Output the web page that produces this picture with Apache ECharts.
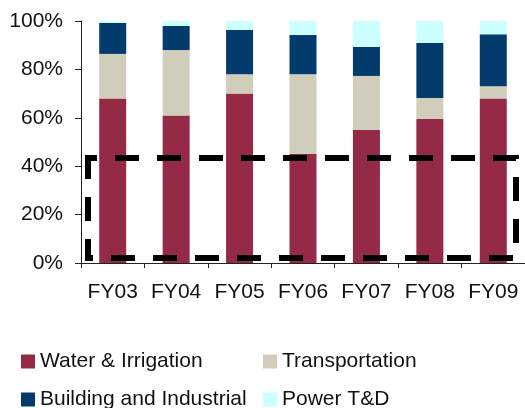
<!DOCTYPE html>
<html>
<head>
<meta charset="utf-8">
<script src="https://cdn.jsdelivr.net/npm/echarts@6/dist/echarts.min.js"></script>
<style>
  html, body { margin: 0; padding: 0; background: #fff; }
  #chart { width: 525px; height: 408px; }
</style>
</head>
<body>
<div id="chart"></div>
<script>
// Order-book mix by segment, share of total (%)
const years = ['FY03', 'FY04', 'FY05', 'FY06', 'FY07', 'FY08', 'FY09'];
const waterIrrigation = [68, 61, 70, 45, 55, 59.5, 68];
const transportation = [18.4, 27, 8, 33, 22.3, 8.7, 5];
const buildingIndustrial = [12.8, 10, 18.3, 16.2, 12, 22.7, 21.5];
const powerTD = [0.8, 2, 3.7, 5.8, 10.7, 9.1, 5.5];
const yTicks = [0, 20, 40, 60, 80, 100];

const FONT = '"Liberation Sans", Arial, sans-serif';
const FONT_SIZE = 21;
const chart = echarts.init(document.getElementById('chart'), null, { renderer: 'canvas' });

function barSeries(name, data, color) {
  return {
    name: name,
    type: 'bar',
    stack: 'mix',
    data: data,
    barWidth: 27,
    itemStyle: { color: color },
    emphasis: { disabled: true }
  };
}

// One legend entry per slot: two rows, two columns
function legendEntry(name, left, top) {
  return {
    data: [name],
    left: left, top: top,
    itemWidth: 14, itemHeight: 14, itemGap: 6,
    icon: 'rect',
    textStyle: { fontFamily: FONT, fontSize: FONT_SIZE, color: '#111' }
  };
}

chart.setOption({
  animation: false,
  grid: { left: 81, top: 21, width: 450, height: 242 },
  xAxis: {
    type: 'category',
    data: years,
    boundaryGap: true,
    axisLine: { lineStyle: { color: '#222', width: 1 } },
    axisTick: { show: true, length: 5, lineStyle: { color: '#222' } },
    axisLabel: { interval: 0, fontFamily: FONT, fontSize: FONT_SIZE, color: '#111', margin: 19 }
  },
  yAxis: {
    type: 'value',
    min: yTicks[0],
    max: yTicks[yTicks.length - 1],
    interval: 20,
    splitLine: { show: false },
    axisLine: { show: true, lineStyle: { color: '#222', width: 1 } },
    axisTick: { show: true, length: 6, lineStyle: { color: '#222' } },
    axisLabel: { fontFamily: FONT, fontSize: FONT_SIZE, color: '#111', margin: 18, formatter: '{value}%' }
  },
  legend: [
    legendEntry('Water & Irrigation', 16, 346),
    legendEntry('Transportation', 258, 346),
    legendEntry('Building and Industrial', 16, 384),
    legendEntry('Power T&D', 258, 384)
  ],
  series: [
    barSeries('Water & Irrigation', waterIrrigation, '#952A47'),
    barSeries('Transportation', transportation, '#D0CDBA'),
    barSeries('Building and Industrial', buildingIndustrial, '#033C6C'),
    barSeries('Power T&D', powerTD, '#CCFFFF')
  ],
  graphic: [
    {
      // dashed highlight frame over the lower band of the chart
      type: 'rect',
      z: 100,
      shape: { x: 88, y: 158, width: 428, height: 100 },
      style: { fill: null, stroke: '#000', lineWidth: 6, lineDash: [24, 18], lineDashOffset: 15 }
    }
  ]
});
</script>
</body>
</html>
